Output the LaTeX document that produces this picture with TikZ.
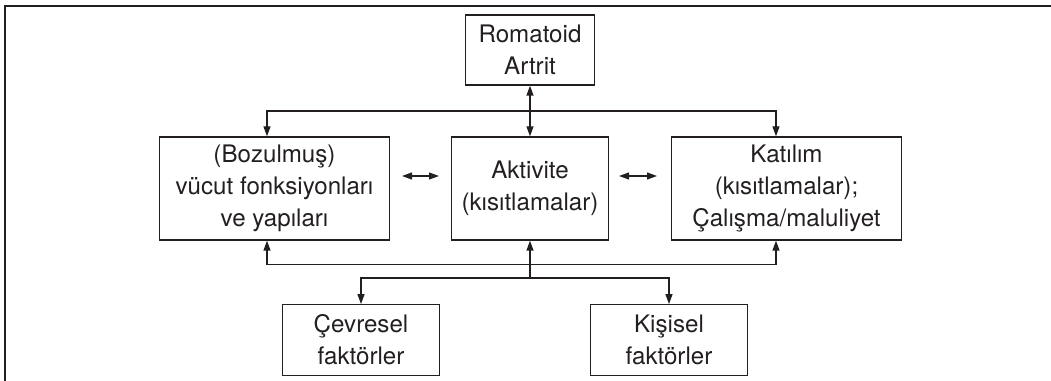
\documentclass[tikz,border=0pt]{standalone}
\usepackage{fontspec}
\setmainfont{TeX Gyre Heros}
\usetikzlibrary{arrows.meta}
\definecolor{ink}{HTML}{231F20}
\tikzset{
  box/.style={draw=ink, line width=0.95pt, inner sep=0pt, align=center, text=ink,
    font=\fontsize{18.1}{24}\selectfont},
  conn/.style={draw=ink, line width=0.95pt},
  tip/.tip={Triangle[length=7.5pt,width=5.2pt]},
}
\begin{document}
\begin{tikzpicture}[x=0.75pt,y=-0.75pt]
\useasboundingbox (0,0) rectangle (1051,381);
% outer frame (partially visible)
\draw[ink, line width=1.1pt] (5,381) -- (5,6) -- (1051,6);
% boxes
\node[box, minimum width={129*0.75pt}, minimum height={70*0.75pt}] (ra) at (530,50) {Romatoid\\Artrit};
\node[box, minimum width={230*0.75pt}, minimum height={103*0.75pt}] (vf) at (274.5,188.5) {(Bozulmuş)\\vücut fonksiyonları\\ve yapıları};
\node[box, minimum width={157*0.75pt}, minimum height={103*0.75pt}] (ak) at (530,188.5) {Aktivite\\(kısıtlamalar)};
\node[box, minimum width={230*0.75pt}, minimum height={103*0.75pt}] (ka) at (786.5,188.5) {Katılım\\(kısıtlamalar);\\Çalışma/maluliyet};
\node[box, minimum width={157*0.75pt}, minimum height={70.5*0.75pt}] (ce) at (361,340) {Çevresel\\faktörler};
\node[box, minimum width={157*0.75pt}, minimum height={70.5*0.75pt}] (ki) at (669,340) {Kişisel\\faktörler};
% junction coordinates
\coordinate (tl) at (267,111);
\coordinate (tr) at (776,111);
\coordinate (bl) at (267,264.5);
\coordinate (br) at (776,264.5);
\coordinate (fl) at (361,278);
\coordinate (fr) at (669,278);
\coordinate (d1a) at (402,176);
\coordinate (d1b) at (439,176);
\coordinate (d2a) at (619,176);
\coordinate (d2b) at (657,176);
% connectors
\draw[conn, {tip}-{tip}] (ra.south) -- (ak.north);
\draw[conn, {tip}-{tip}] (vf.north -| tl) -- (tl) -- (tr) -- (ka.north -| tr);
\draw[conn, {tip}-{tip}] (vf.south -| bl) -- (bl) -- (br) -- (ka.south -| br);
\draw[conn, -{tip}] (ak.south |- fl) -- (ak.south);
\draw[conn, {tip}-{tip}] (ce.north) -- (fl) -- (fr) -- (ki.north);
\draw[conn, {tip}-{tip}] (d1a) -- (d1b);
\draw[conn, {tip}-{tip}] (d2a) -- (d2b);
\end{tikzpicture}
\end{document}
